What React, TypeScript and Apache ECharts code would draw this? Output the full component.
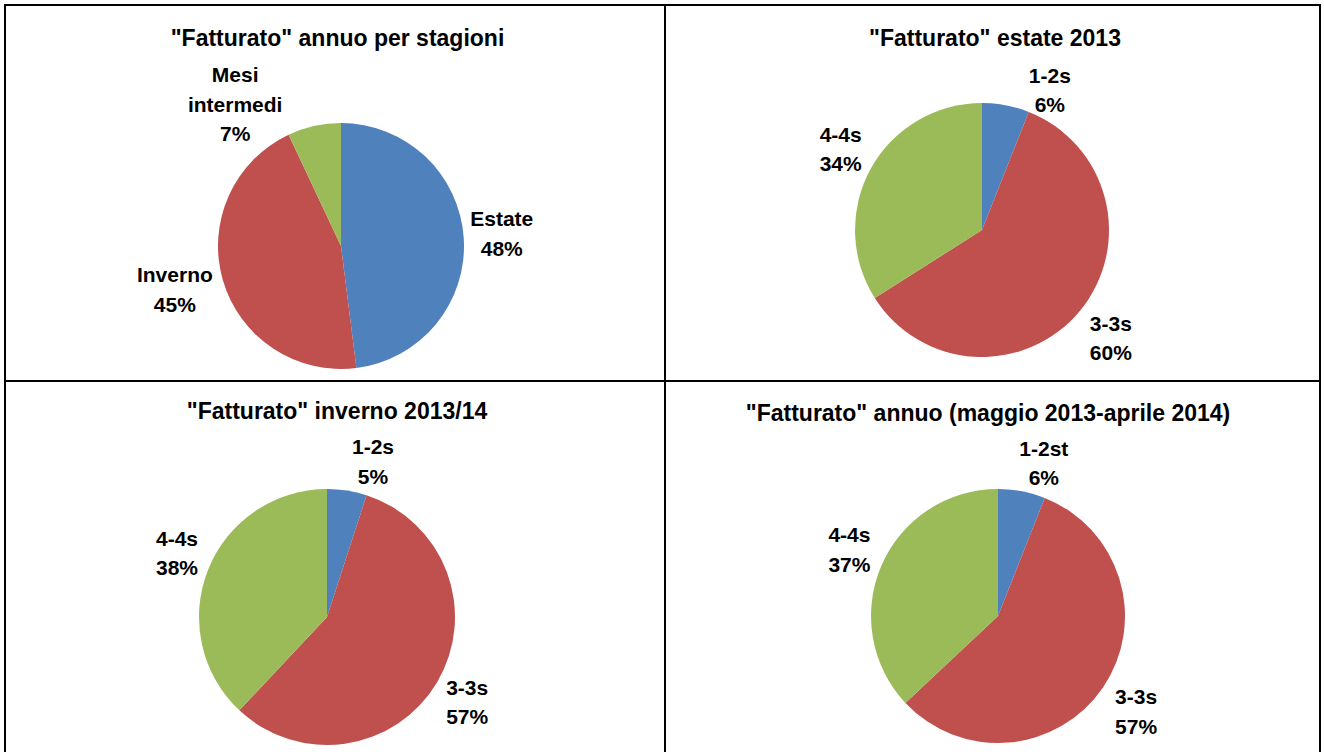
import React, { useEffect, useRef } from "react";
import * as echarts from "echarts";

// ---- data ----
const seasonCategories = ["Estate", "Inverno", "Mesi intermedi"];
const seasonValues = [48, 45, 7];

const summerCategories = ["1-2s", "3-3s", "4-4s"];
const summerValues = [6, 60, 34];

const winterCategories = ["1-2s", "3-3s", "4-4s"];
const winterValues = [5, 57, 38];

const yearCategories = ["1-2st", "3-3s", "4-4s"];
const yearValues = [6, 57, 37];

const chartTitles = [
  '"Fatturato" annuo per stagioni',
  '"Fatturato" estate 2013',
  '"Fatturato" inverno 2013/14',
  '"Fatturato" annuo (maggio 2013-aprile 2014)',
];

// ---- layout / style ----
const COLORS = ["#4F81BD", "#C0504D", "#9BBB59"];
const FONT = '"Liberation Sans", Arial, sans-serif';

const PIE_LAYOUT = [
  { center: [341, 246], radius: 123, title: [337.5, 37.5] },
  { center: [982, 230], radius: 127, title: [995, 37.5] },
  { center: [327, 617], radius: 128, title: [337, 410.5] },
  { center: [998, 616], radius: 127, title: [988, 412.5] },
];

// label offsets (dx, dy) from the slice edge point, per pie / slice
const LABEL_OFFSETS = [
  [[38, -5], [-48, 9], [-79, -21.5]],
  [[44, -15], [31, 27], [-30, -20]],
  [[26, -29], [30, 20], [-31, -17]],
  [[22, -28], [33, 24], [-32, -16]],
];

const pieData = [
  [seasonCategories, seasonValues],
  [summerCategories, summerValues],
  [winterCategories, winterValues],
  [yearCategories, yearValues],
];

export default function App() {
  const ref = useRef<HTMLDivElement>(null);

  useEffect(() => {
    if (!ref.current) return;
    const chart = echarts.init(ref.current, undefined, { renderer: "svg" });

    const series = pieData.map(([cats, vals], i) => ({
      type: "pie",
      center: PIE_LAYOUT[i].center,
      radius: PIE_LAYOUT[i].radius,
      startAngle: 90,
      clockwise: true,
      avoidLabelOverlap: false,
      percentPrecision: 0,
      silent: true,
      itemStyle: { borderWidth: 0 },
      emphasis: { disabled: true },
      label: {
        show: true,
        position: "outside",
        distanceToLabelLine: 0,
        formatter: (p: any) =>
          `${String(p.name).replace(" ", "\n")}\n${p.percent}%`,
        fontFamily: FONT,
        fontWeight: "bold",
        fontSize: 21,
        lineHeight: 29.5,
        color: "#000",
      },
      labelLine: { show: false, length: 0, length2: 0 },
      labelLayout: (params: any) => {
        const off = LABEL_OFFSETS[i][params.dataIndex];
        return { align: "center", verticalAlign: "middle", dx: off[0], dy: off[1] };
      },
      data: (cats as string[]).map((name, k) => ({
        name,
        value: (vals as number[])[k],
        itemStyle: { color: COLORS[k] },
      })),
    }));

    const lineStyle = { stroke: "#000", lineWidth: 2 };
    const gridLines = [
      { x1: 4, y1: 5, x2: 1321, y2: 5 },
      { x1: 4, y1: 381, x2: 1321, y2: 381 },
      { x1: 5, y1: 4, x2: 5, y2: 752 },
      { x1: 665, y1: 4, x2: 665, y2: 752 },
      { x1: 1320, y1: 4, x2: 1320, y2: 752 },
    ].map((shape) => ({ type: "line", shape, style: lineStyle, silent: true }));

    const titleTexts = chartTitles.map((t, i) => ({
      type: "text",
      x: PIE_LAYOUT[i].title[0],
      y: PIE_LAYOUT[i].title[1],
      silent: true,
      style: {
        text: t,
        align: "center",
        verticalAlign: "middle",
        fontFamily: FONT,
        fontWeight: "bold",
        fontSize: 23,
        fill: "#000",
      },
    }));

    chart.setOption({
      animation: false,
      backgroundColor: "#fff",
      series,
      graphic: [...gridLines, ...titleTexts],
    });

    return () => chart.dispose();
  }, []);

  return (
    <div
      ref={ref}
      style={{ position: "absolute", left: 0, top: 0, width: 1324, height: 752 }}
    />
  );
}
